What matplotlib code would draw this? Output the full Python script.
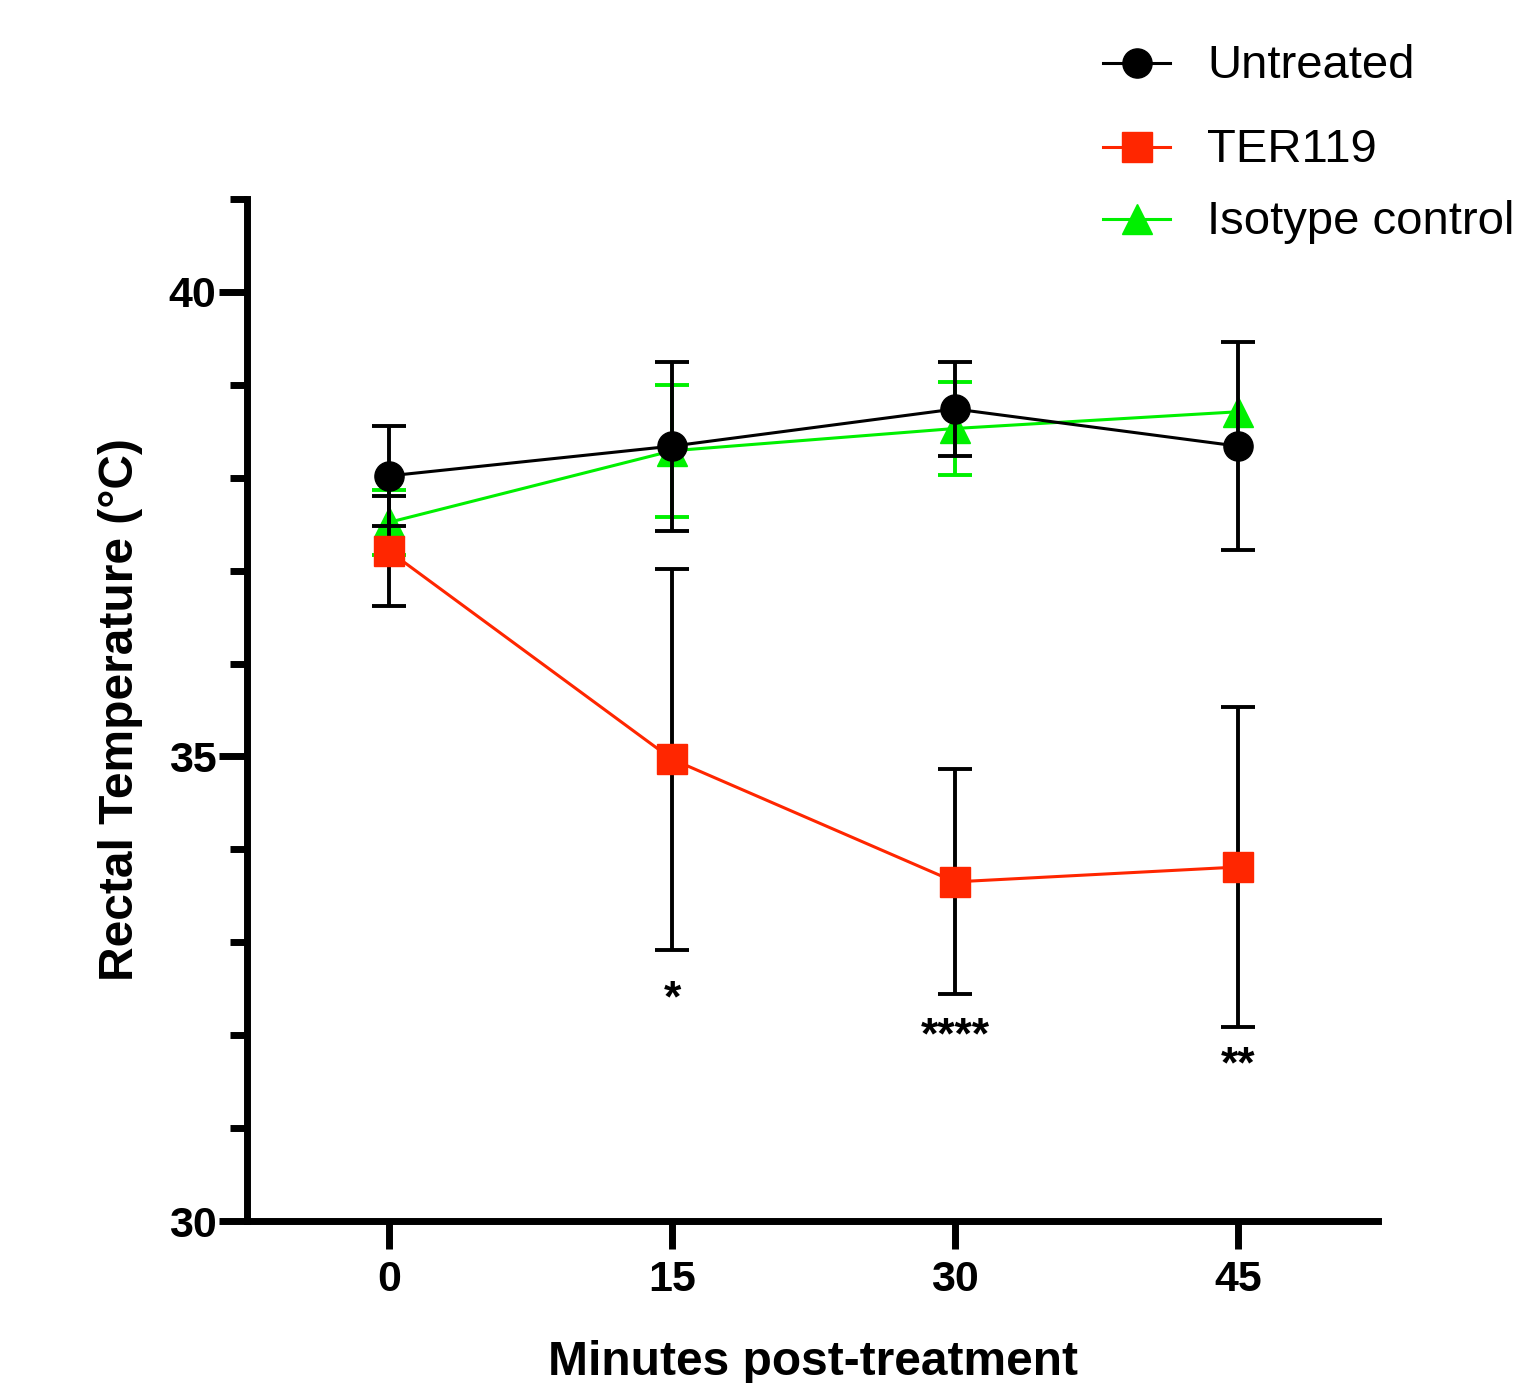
import numpy as np
import matplotlib
matplotlib.use("Agg")
import matplotlib.pyplot as plt
from matplotlib.lines import Line2D
from matplotlib.ticker import MultipleLocator

plt.rcParams['font.family'] = ['Liberation Sans', 'DejaVu Sans']

# data
minutes = [0, 15, 30, 45]
untreated_mean = [38.02, 38.34, 38.74, 38.34]
untreated_err = [0.54, 0.91, 0.51, 1.12]
ter119_mean = [37.21, 34.97, 33.65, 33.81]
ter119_err = [0.59, 2.05, 1.21, 1.72]
isotype_mean = [37.52, 38.29, 38.53, 38.71]
isotype_err = [0.35, 0.71, 0.50, np.nan]

stars = ["*", "****", "**"]
star_x = [15, 30, 45]
star_y = [32.38, 31.98, 31.67]

red = '#FF2600'
green = '#00F000'

fig = plt.figure(figsize=(15.22, 13.83), dpi=100)
ax = fig.add_axes([247/1522, 1 - 1221/1383, (1378-247)/1522, (1221-199)/1383])

ms = 21
ax.errorbar(minutes, isotype_mean, yerr=isotype_err, color=green, ecolor=green,
            marker='^', ms=ms, lw=2.2, elinewidth=2.8, capsize=12, capthick=2.8, zorder=2)
ax.errorbar(minutes, untreated_mean, yerr=untreated_err, color='black', ecolor='black',
            marker='o', ms=ms, lw=2.2, elinewidth=2.8, capsize=12, capthick=2.8, zorder=3)
ax.errorbar(minutes, ter119_mean, yerr=ter119_err, color=red, ecolor='black',
            marker='s', ms=ms, lw=2.2, elinewidth=2.8, capsize=12, capthick=2.8, zorder=4)

for s, x, y in zip(stars, star_x, star_y):
    ax.text(x, y, s, ha='center', va='center', fontsize=32, fontweight='bold')

ax.set_xlim(-7.53, 52.42)
ax.set_ylim(30, 41)
ax.set_xticks(minutes)
ax.set_yticks([30, 35, 40])
ax.yaxis.set_minor_locator(MultipleLocator(1))

for side in ['top', 'right']:
    ax.spines[side].set_visible(False)
for side in ['left', 'bottom']:
    ax.spines[side].set_linewidth(5)
    ax.spines[side].set_capstyle('projecting')

ax.tick_params(axis='both', which='major', length=20, width=5, labelsize=31, pad=2)
ax.tick_params(axis='y', which='minor', length=12, width=5)
ax.tick_params(axis='x', pad=8)
for lab in ax.get_xticklabels() + ax.get_yticklabels():
    lab.set_fontweight('bold')

ax.set_xlabel('Minutes post-treatment', fontsize=34.5, fontweight='bold')
ax.set_ylabel('Rectal Temperature (°C)', fontsize=34.5, fontweight='bold')
ax.xaxis.set_label_coords(0.5, -0.116)
ax.yaxis.set_label_coords(-0.092, 0.5)

# legend drawn by hand, entries not evenly spaced in the original
labels = ['Untreated', 'TER119', 'Isotype control']
markers = ['o', 's', '^']
colors = ['black', red, green]
rows_px = [63, 147, 219]
for lab, mk, c, yp in zip(labels, markers, colors, rows_px):
    yf = 1 - yp/1383
    fig.add_artist(Line2D([1103/1522, 1170/1522], [yf, yf], color=c, lw=2.2,
                          transform=fig.transFigure))
    fig.add_artist(Line2D([1137/1522], [yf], color=c, marker=mk, ms=ms, lw=0,
                          transform=fig.transFigure))
    fig.text(1207/1522, yf - 3/1383, lab, fontsize=34, va='center', ha='left')

fig.savefig('out.png', dpi=100)
